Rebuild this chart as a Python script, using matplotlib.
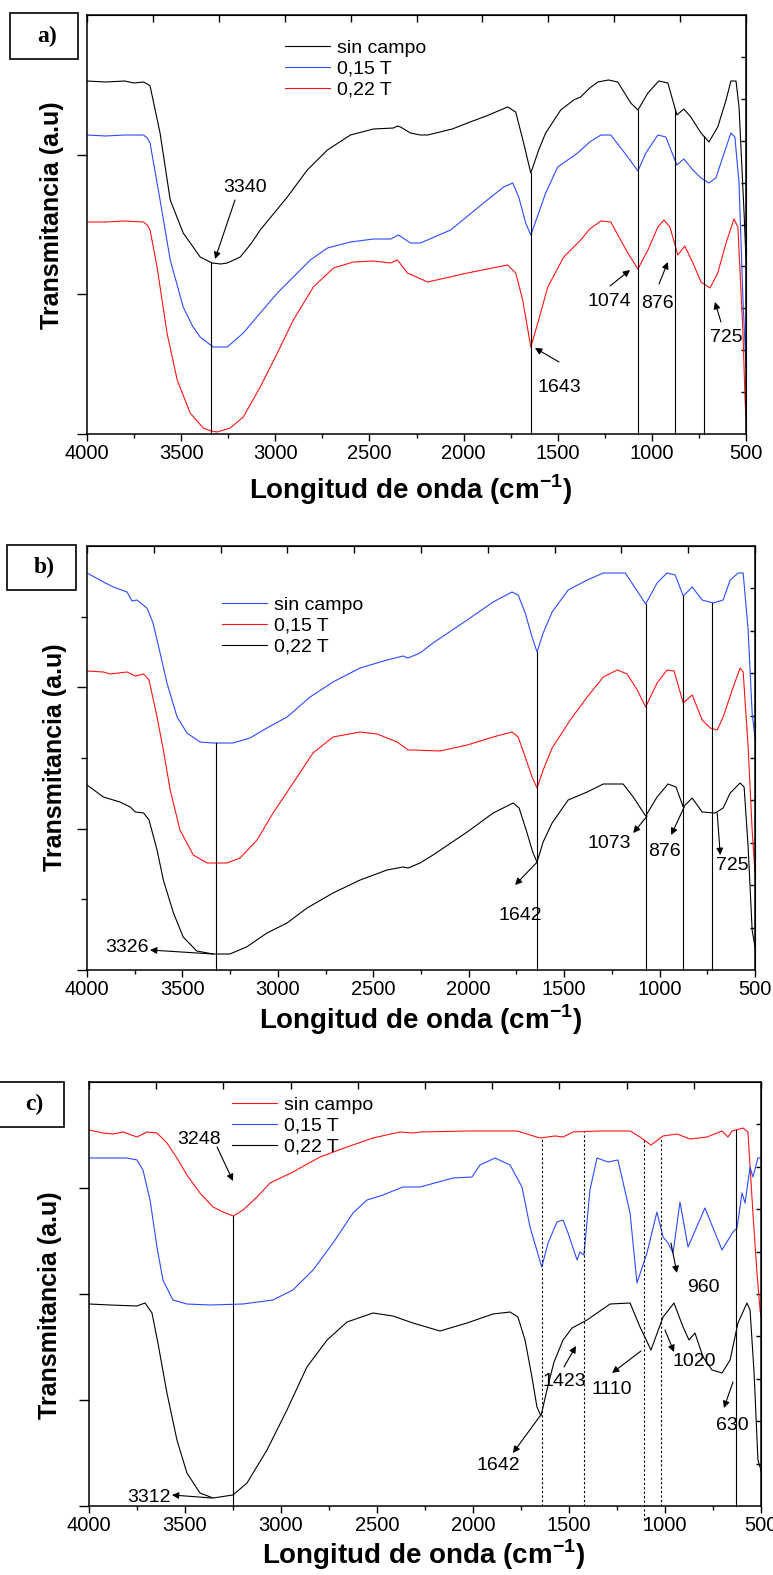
import numpy as np
import matplotlib
matplotlib.use('Agg')
import matplotlib.pyplot as plt
from matplotlib.patches import Rectangle

plt.rcParams['font.family'] = ['Liberation Sans', 'DejaVu Sans']
plt.rcParams['mathtext.fontset'] = 'custom'
plt.rcParams['mathtext.rm'] = 'Liberation Sans'
plt.rcParams['mathtext.bf'] = 'Liberation Sans:bold'

# ---- spectra (wavenumber in cm-1, transmittance in a.u.) ----
# a)
a_k_w = [4000, 3900, 3800, 3750, 3700, 3680, 3665, 3612, 3558, 3489, 3440, 3399, 3335, 3290, 3255, 3186,
         3130, 3080, 2936, 2830, 2723, 2601, 2479, 2372, 2351, 2335, 2282, 2229, 2191, 2060, 1979, 1880,
         1766, 1723, 1681, 1643, 1601, 1564, 1484, 1415, 1378, 1330, 1287, 1230, 1181, 1112, 1074, 1021,
         963, 915, 867, 830, 793, 739, 697, 650, 606, 580, 553, 537, 510, 500]
a_k_t = [353, 352, 353, 351, 352, 350, 348, 301, 234, 201, 188, 177, 171, 170, 171, 177,
         190, 204, 237, 264, 284, 299, 305, 306, 308, 307, 301, 299, 299, 305, 311, 318,
         327, 322, 291, 261, 284, 301, 324, 334, 337, 346, 352, 354, 352, 331, 324, 341,
         353, 351, 319, 325, 317, 301, 292, 307, 334, 353, 353, 327, 220, 174]
a_b_w = [4000, 3900, 3800, 3700, 3680, 3665, 3612, 3558, 3489, 3440, 3399, 3330, 3255, 3170, 3080, 2989,
         2904, 2814, 2723, 2601, 2479, 2388, 2346, 2282, 2229, 2069, 1894, 1787, 1739, 1707, 1670, 1643,
         1601, 1564, 1500, 1394, 1330, 1271, 1218, 1128, 1074, 1032, 968, 926, 867, 830, 782, 739, 697,
         660, 623, 580, 559, 537, 516, 500]
a_b_t = [299, 298, 299, 299, 296, 291, 234, 174, 127, 108, 97, 87, 87, 101, 121, 141,
         157, 174, 186, 192, 195, 195, 199, 191, 191, 204, 231, 247, 251, 237, 211, 199,
         221, 241, 267, 281, 292, 299, 299, 277, 263, 281, 299, 297, 269, 275, 264, 256, 251,
         256, 277, 301, 297, 251, 134, 67]
a_r_w = [4000, 3900, 3800, 3700, 3680, 3665, 3628, 3575, 3521, 3452, 3383, 3340, 3309, 3239, 3170, 3080,
         2989, 2904, 2798, 2691, 2585, 2479, 2388, 2351, 2298, 2191, 1979, 1766, 1723, 1686, 1643, 1601,
         1553, 1468, 1378, 1330, 1271, 1218, 1128, 1074, 1021, 968, 936, 904, 862, 825, 782, 739, 691,
         650, 606, 564, 543, 516, 505, 500]
a_r_t = [212, 212, 213, 212, 209, 204, 167, 101, 54, 21, 6, 3, 2, 6, 17, 47,
         81, 114, 147, 166, 172, 173, 171, 174, 161, 152, 161, 169, 161, 134, 87, 114,
         147, 177, 194, 205, 213, 212, 181, 165, 184, 207, 214, 207, 179, 188, 171, 152, 146,
         161, 191, 215, 207, 101, 34, 17]

# b)
b_b_w = [4000, 3914, 3862, 3790, 3764, 3738, 3686, 3654, 3617, 3581, 3528, 3476, 3408, 3340, 3235, 3146,
         3057, 2952, 2831, 2711, 2569, 2428, 2344, 2318, 2255, 2187, 2008, 1872, 1773, 1741, 1704, 1668,
         1642, 1610, 1563, 1479, 1379, 1295, 1180, 1138, 1073, 1013, 961, 918, 876, 829, 777, 719, 667,
         630, 588, 562, 536, 515, 500]
b_b_t = [397, 388, 383, 378, 369, 370, 362, 347, 317, 287, 253, 237, 228, 227, 227, 232,
         242, 253, 273, 288, 302, 310, 314, 312, 317, 327, 350, 368, 378, 375, 357, 333,
         318, 337, 358, 380, 390, 397, 397, 385, 366, 387, 397, 395, 374, 383, 370, 367, 370,
         390, 397, 397, 340, 257, 232]
b_r_w = [4000, 3914, 3880, 3790, 3747, 3703, 3675, 3633, 3600, 3564, 3513, 3443, 3371, 3266, 3198, 3109,
         3025, 2920, 2816, 2711, 2569, 2480, 2375, 2318, 2291, 2150, 2008, 1872, 1773, 1741, 1704, 1668,
         1642, 1610, 1563, 1468, 1379, 1295, 1222, 1170, 1117, 1073, 1013, 961, 924, 876, 829, 777, 735,
         698, 667, 614, 578, 562, 536, 515, 500]
b_r_t = [299, 298, 296, 298, 294, 296, 290, 253, 220, 180, 140, 115, 107, 107, 112, 130,
         157, 187, 217, 233, 238, 236, 228, 220, 220, 219, 225, 233, 238, 233, 213, 193,
         182, 200, 222, 250, 273, 293, 300, 296, 280, 263, 287, 300, 299, 267, 275, 250, 242,
         240, 253, 283, 302, 298, 223, 140, 97]
b_k_w = [4000, 3914, 3827, 3773, 3747, 3703, 3675, 3633, 3600, 3547, 3496, 3425, 3340, 3252, 3164, 3057,
         2952, 2847, 2711, 2569, 2428, 2344, 2318, 2255, 2187, 2008, 1872, 1767, 1736, 1699, 1663, 1642,
         1610, 1563, 1479, 1379, 1295, 1191, 1138, 1073, 1013, 956, 914, 876, 829, 777, 708, 667, 630,
         578, 557, 536, 515, 500]
b_k_t = [185, 173, 168, 163, 158, 157, 150, 120, 90, 57, 33, 19, 16, 16, 23, 37,
         47, 62, 77, 90, 100, 103, 102, 107, 115, 138, 157, 167, 162, 140, 117, 108,
         128, 147, 170, 178, 186, 186, 173, 154, 173, 186, 183, 163, 172, 158, 157, 162, 177,
         187, 183, 123, 40, 23]

# c)
c_r_w = [4000, 3927, 3875, 3823, 3750, 3698, 3646, 3594, 3542, 3490, 3422, 3354, 3302, 3248, 3198, 3125,
         3057, 2938, 2797, 2656, 2521, 2380, 2313, 2276, 2031, 1771, 1651, 1573, 1531, 1479, 1339, 1182,
         1130, 1073, 1010, 938, 870, 781, 703, 672, 651, 594, 568, 542, 521, 505, 500]
c_r_t = [376, 373, 372, 374, 369, 374, 373, 363, 348, 331, 313, 299, 294, 290, 296, 309,
         323, 334, 349, 359, 368, 374, 373, 374, 375, 375, 368, 370, 369, 374, 375, 375,
         369, 361, 370, 372, 367, 369, 375, 369, 375, 378, 374, 293, 233, 196, 190]
c_b_w = [4000, 3802, 3750, 3719, 3682, 3646, 3615, 3563, 3490, 3370, 3198, 3042, 2938, 2833, 2729, 2625,
         2552, 2469, 2365, 2276, 2104, 2005, 1964, 1885, 1807, 1745, 1703, 1642, 1609, 1563, 1531, 1505,
         1458, 1443, 1422, 1391, 1354, 1297, 1245, 1182, 1146, 1094, 1042, 1010, 984, 958, 922, 880,
         792, 703, 646, 625, 599, 583, 557, 542, 516, 500]
c_b_t = [348, 348, 346, 336, 306, 259, 226, 206, 202, 201, 202, 206, 216, 236, 263, 293,
         306, 311, 319, 319, 328, 329, 341, 348, 341, 319, 279, 239, 263, 284, 286, 273,
         246, 254, 251, 316, 348, 344, 346, 293, 223, 253, 294, 269, 263, 253, 304, 259,
         298, 256, 274, 278, 313, 303, 339, 329, 348, 348]
c_k_w = [4000, 3891, 3750, 3708, 3672, 3641, 3594, 3542, 3490, 3422, 3354, 3250, 3177, 3073, 2969, 2865,
         2760, 2656, 2521, 2417, 2328, 2313, 2172, 2031, 1896, 1807, 1766, 1729, 1693, 1667, 1646, 1615,
         1578, 1531, 1484, 1406, 1286, 1182, 1130, 1073, 1010, 953, 906, 875, 844, 802, 755, 703, 661,
         620, 573, 557, 536, 516, 505, 500]
c_k_t = [202, 201, 200, 203, 193, 163, 113, 66, 33, 13, 8, 11, 23, 56, 96, 139,
         166, 184, 193, 190, 184, 183, 175, 183, 192, 194, 189, 166, 129, 99, 90, 116,
         144, 166, 178, 186, 202, 203, 179, 156, 189, 203, 179, 166, 173, 149, 136, 133, 146,
         183, 203, 196, 133, 46, 39, 35]

series_labels = ['sin campo', '0,15 T', '0,22 T']
peaks_a = [3340, 1643, 1074, 876, 725]
peaks_b = [3326, 1642, 1073, 876, 725]
peaks_c = [3248, 3312, 1642, 1423, 1110, 1020, 960, 630]

BLACK, BLUE, RED = 'black', '#2b4bff', '#ff1414'
W, HT = 773, 1575

fig = plt.figure(figsize=(W / 100, HT / 100), dpi=100)


def fx(px):
    return px / W


def fy(py):
    return 1 - py / HT


def make_axes(left, top, right, bottom, nleft, left_minor=False):
    h = bottom - top
    ax = fig.add_axes([fx(left), fy(bottom), (right - left) / W, h / HT])
    ax.set_xlim(4000, 500)
    ax.set_ylim(0, h)
    for s in ax.spines.values():
        s.set_linewidth(1.1)
    ax.set_xticks(np.arange(4000, 499, -500))
    ax.set_xticks(np.arange(3750, 500, -500), minor=True)
    ax.tick_params(axis='x', which='major', direction='out', length=5, width=1.0, labelsize=14.5, pad=2)
    ax.tick_params(axis='x', which='minor', direction='out', length=3, width=1.0)
    ax.set_yticks(np.arange(nleft) * h / nleft)
    if left_minor:
        ax.set_yticks((np.arange(nleft) + 0.5) * h / nleft, minor=True)
    ax.tick_params(axis='y', which='major', direction='out', length=7, width=1.0, labelleft=False)
    ax.tick_params(axis='y', which='minor', direction='out', length=4, width=1.0)
    top_ax = ax.secondary_xaxis('top')
    top_ax.set_xticks(np.arange(4000, 499, -350))
    top_ax.tick_params(direction='in', length=5, width=1.0, labeltop=False)
    right_ax = ax.secondary_yaxis('right')
    right_ax.set_yticks(np.arange(1, 10) * h / 10)
    right_ax.tick_params(direction='in', length=3.5, width=1.0, labelright=False)
    return ax


def peak_line(ax, p, w, t, style='-', bottom=0):
    top = np.interp(p, w[::-1], t[::-1])
    ax.plot([p, p], [bottom, top], color='k', lw=0.8, ls=style, clip_on=False)


def peak_label(ax, text, txt, start, end):
    ax.annotate('', xy=end, xytext=start,
                arrowprops=dict(arrowstyle='-|>', color='k', lw=0.8, mutation_scale=10,
                                shrinkA=0, shrinkB=0))
    ax.text(txt[0], txt[1], text, ha='center', va='center', fontsize=14)


def legend(ax, x, y):
    ax.legend(loc='upper left', bbox_to_anchor=(fx(x), fy(y)), bbox_transform=fig.transFigure,
              frameon=False, fontsize=14, handlelength=2.3, handletextpad=0.35,
              labelspacing=0.18, borderpad=0, borderaxespad=0)


def panel_tag(x0, y0, x1, y1, text):
    fig.patches.append(Rectangle((fx(x0), fy(y1)), (x1 - x0) / W, (y1 - y0) / HT,
                                 transform=fig.transFigure, fill=False, ec='k', lw=1.2))
    fig.text(fx((x0 + x1) / 2 + 3), fy((y0 + y1) / 2), text, ha='center', va='center',
             fontsize=17, weight='bold', family='Liberation Serif')


def axis_titles(xc, xy, yx, yc):
    fig.text(fx(xc), fy(xy), r'Longitud de onda (cm$^{\mathbf{-1}}$)', ha='center', va='center',
             fontsize=20, weight='bold')
    fig.text(fx(yx), fy(yc), 'Transmitancia (a.u)', ha='center', va='center', rotation=90,
             fontsize=18, weight='bold')


# ---- a) ----
ax = make_axes(87, 15, 746, 434, 3)
ax.plot(a_k_w, a_k_t, color=BLACK, lw=0.8, label=series_labels[0])
ax.plot(a_b_w, a_b_t, color=BLUE, lw=0.8, label=series_labels[1])
ax.plot(a_r_w, a_r_t, color=RED, lw=0.8, label=series_labels[2])
for p in peaks_a:
    peak_line(ax, p, a_k_w, a_k_t)
spots_a = [((3161, 247), (3214, 234), (3320, 175)),
           ((1493, 47), (1493, 72), (1621, 86)),
           ((1228, 132), (1222, 148), (1116, 164)),
           ((968, 130), (962, 150), (915, 172)),
           ((606, 96), (633, 112), (665, 132))]
for p, (txt, s, e) in zip(peaks_a, spots_a):
    peak_label(ax, str(p), txt, s, e)
legend(ax, 285, 39)
panel_tag(10, 13, 78, 59, 'a)')
axis_titles(410, 490, 52, 215)

# ---- b) ----
ax = make_axes(87, 546, 755, 970, 3, left_minor=True)
ax.plot(b_b_w, b_b_t, color=BLUE, lw=0.8, label=series_labels[0])
ax.plot(b_r_w, b_r_t, color=RED, lw=0.8, label=series_labels[1])
ax.plot(b_k_w, b_k_t, color=BLACK, lw=0.8, label=series_labels[2])
for p in peaks_b:
    peak_line(ax, p, b_b_w, b_b_t)
spots_b = [((3790, 23), (3340, 16), (3670, 20)),
           ((1731, 55), (1641, 108), (1757, 85)),
           ((1264, 127), (1065, 154), (1138, 137)),
           ((976, 118), (871, 163), (939, 135)),
           ((620, 105), (698, 157), (682, 115))]
for p, (txt, s, e) in zip(peaks_b, spots_b):
    peak_label(ax, str(p), txt, s, e)
legend(ax, 222, 596)
panel_tag(7, 545, 76, 590, 'b)')
axis_titles(420, 1020, 55, 757)

# ---- c) ----
ax = make_axes(89, 1082, 761, 1506, 4)
ax.plot(c_r_w, c_r_t, color=RED, lw=0.8, label=series_labels[0])
ax.plot(c_b_w, c_b_t, color=BLUE, lw=0.8, label=series_labels[1])
ax.plot(c_k_w, c_k_t, color=BLACK, lw=0.8, label=series_labels[2])
peak_line(ax, 3248, c_r_w, c_r_t)
peak_line(ax, 630, c_r_w, c_r_t)
for p in [1642, 1423, 1020]:
    peak_line(ax, p, c_r_w, c_r_t, style=(0, (2, 2)))
peak_line(ax, 1110, c_r_w, c_r_t, style=(0, (2, 2)), bottom=-14)
spots_c = [((3427, 366), (3333, 359), (3250, 325)),
           ((3687, 9), (3359, 8), (3568, 11)),
           ((1870, 40), (1651, 90), (1792, 53)),
           ((1526, 124), (1526, 139), (1464, 160)),
           ((1276, 116), (1125, 155), (1276, 133)),
           ((849, 145), (1000, 176), (953, 154)),
           ((802, 219), (969, 263), (938, 233)),
           ((651, 80), (646, 124), (693, 98))]
for p, (txt, s, e) in zip(peaks_c, spots_c):
    peak_label(ax, str(p), txt, s, e)
legend(ax, 232, 1096)
panel_tag(-2, 1082, 64, 1127, 'c)')
axis_titles(423, 1555, 50, 1305)

fig.savefig('out.png', dpi=100)
